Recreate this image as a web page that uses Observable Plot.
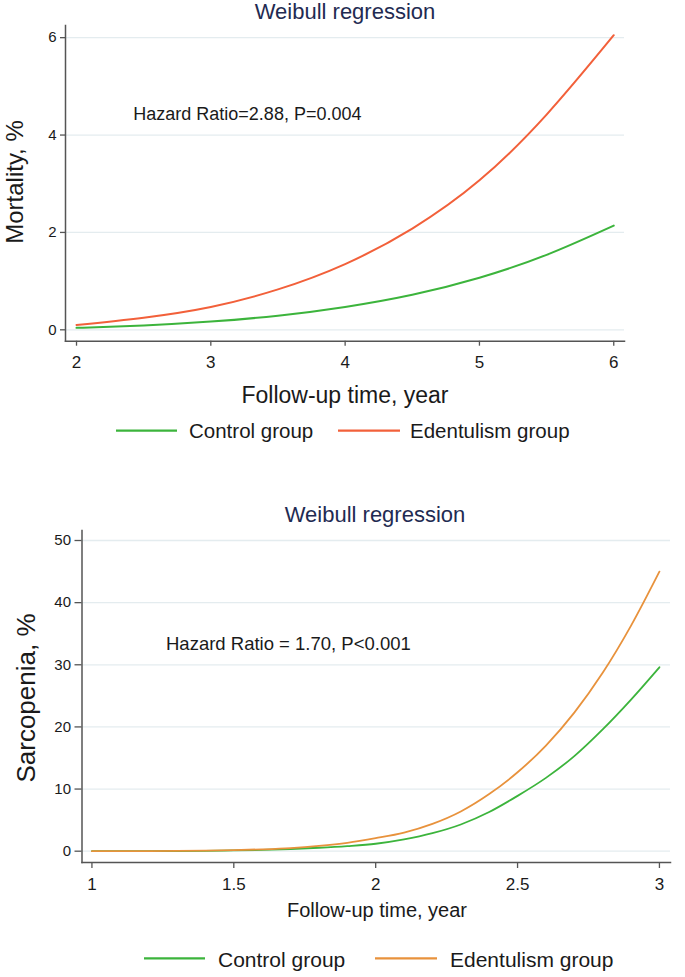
<!DOCTYPE html>
<html>
<head>
<meta charset="utf-8">
<script src="https://cdn.jsdelivr.net/npm/d3@7"></script>
<script src="https://cdn.jsdelivr.net/npm/@observablehq/plot@0.6"></script>
<style>
  body { margin: 0; background: #fff; }
  #page { position: relative; width: 685px; height: 977px; overflow: hidden; background: #fff;
          font-family: Arial, "Liberation Sans", sans-serif; }
  #page > * { position: absolute; left: 0; }
  #overlay { top: 0; pointer-events: none; }
</style>
</head>
<body>
<div id="page"></div>
<script>
// ---------- Data ----------
const groups = ["Control group", "Edentulism group"];

// Panel 1: Mortality (%)
const years1 = [2, 2.5, 3, 3.5, 4, 4.5, 5, 5.5, 6];
const mortControl = [0.04, 0.09, 0.17, 0.29, 0.47, 0.72, 1.07, 1.54, 2.14];
const mortEdent   = [0.10, 0.25, 0.47, 0.83, 1.35, 2.08, 3.07, 4.42, 6.05];
const xTicks1 = [2, 3, 4, 5, 6];
const yTicks1 = [0, 2, 4, 6];

// Panel 2: Sarcopenia (%)
const years2 = [1, 1.1, 1.2, 1.3, 1.4, 1.5, 1.6, 1.7, 1.8, 1.9, 2, 2.1, 2.2, 2.3, 2.4, 2.5, 2.6, 2.7, 2.8, 2.9, 3];
const sarcControl = [0, 0, 0.01, 0.03, 0.06, 0.12, 0.2, 0.35, 0.55, 0.82, 1.2, 1.9, 2.9, 4.3, 6.3, 8.9, 11.8, 15.3, 19.6, 24.4, 29.6];
const sarcEdent   = [0, 0, 0.01, 0.04, 0.09, 0.17, 0.3, 0.5, 0.85, 1.35, 2.1, 3.0, 4.4, 6.4, 9.2, 12.7, 17.0, 22.3, 28.7, 36.3, 45.0];
const xTicks2 = [1, 1.5, 2, 2.5, 3];
const yTicks2 = [0, 10, 20, 30, 40, 50];

const titleText = "Weibull regression";
const xLabelText = "Follow-up time, year";
const yLabel1 = "Mortality, %";
const yLabel2 = "Sarcopenia, %";
const note1 = "Hazard Ratio=2.88, P=0.004";
const note2 = "Hazard Ratio = 1.70, P<0.001";

// ---------- Styles ----------
const GREEN = "#3cb43c";
const ORANGE1 = "#f2603a";
const ORANGE2 = "#e8923c";
const AXIS = "#555";
const GRID = "#e4ecef";
const TEXT = "#1a1a1a";
const TITLE = "#1f2b52";
const FONT = 'Arial, "Liberation Sans", sans-serif';
const fmt = d => String(d);

const rows1 = years1.flatMap((t, i) => [
  {t, v: mortControl[i], g: groups[0]},
  {t, v: mortEdent[i], g: groups[1]}
]);
const rows2 = years2.flatMap((t, i) => [
  {t, v: sarcControl[i], g: groups[0]},
  {t, v: sarcEdent[i], g: groups[1]}
]);

const page = document.getElementById("page");

// ---------- Panel 1 ----------
const p1 = Plot.plot({
  width: 685, height: 380,
  marginLeft: 65, marginRight: 61, marginTop: 25, marginBottom: 39.3,
  x: {domain: [1.918, 6.08]},
  y: {domain: [-0.234, 6.25]},
  style: {fontFamily: FONT, color: TEXT, background: "transparent", overflow: "visible"},
  marks: [
    Plot.gridY({ticks: yTicks1, stroke: GRID, strokeOpacity: 1, strokeWidth: 1.3}),
    Plot.axisY({ticks: yTicks1, tickSize: 5, tickPadding: 4, label: null, fontSize: 15, stroke: AXIS, strokeWidth: 1.3, tickFormat: fmt}),
    Plot.axisX({ticks: xTicks1, tickSize: 5, tickPadding: 10, label: null, fontSize: 17, stroke: AXIS, strokeWidth: 1.3, tickFormat: fmt}),
    Plot.frame({anchor: "left", stroke: AXIS, strokeWidth: 1.5}),
    Plot.frame({anchor: "bottom", stroke: AXIS, strokeWidth: 1.5}),
    Plot.line(rows1.filter(d => d.g === groups[0]), {x: "t", y: "v", stroke: GREEN, strokeWidth: 2, curve: "natural"}),
    Plot.line(rows1.filter(d => d.g === groups[1]), {x: "t", y: "v", stroke: ORANGE1, strokeWidth: 2, curve: "natural"})
  ]
});
p1.style.top = "0px";
page.appendChild(p1);

// ---------- Panel 2 ----------
const p2 = Plot.plot({
  width: 685, height: 420,
  marginLeft: 81.5, marginRight: 15, marginTop: 40, marginBottom: 48,
  x: {domain: [0.965, 3.039]},
  y: {domain: [-1.82, 51.61]},
  style: {fontFamily: FONT, color: TEXT, background: "transparent", overflow: "visible"},
  marks: [
    Plot.gridY({ticks: yTicks2, stroke: GRID, strokeOpacity: 1, strokeWidth: 1.3}),
    Plot.axisY({ticks: yTicks2, tickSize: 7, tickPadding: 4, label: null, fontSize: 15, stroke: AXIS, strokeWidth: 1.3, tickFormat: fmt}),
    Plot.axisX({ticks: xTicks2, tickSize: 6, tickPadding: 9, label: null, fontSize: 17, stroke: AXIS, strokeWidth: 1.3, tickFormat: fmt}),
    Plot.frame({anchor: "left", stroke: AXIS, strokeWidth: 1.5}),
    Plot.frame({anchor: "bottom", stroke: AXIS, strokeWidth: 1.5}),
    Plot.line(rows2.filter(d => d.g === groups[0]), {x: "t", y: "v", stroke: GREEN, strokeWidth: 1.8, curve: "monotone-x"}),
    Plot.line(rows2.filter(d => d.g === groups[1]), {x: "t", y: "v", stroke: ORANGE2, strokeWidth: 1.8, curve: "monotone-x"})
  ]
});
p2.style.top = "490px";
page.appendChild(p2);

// ---------- Overlay text: titles, labels, notes, legends ----------
const svg = d3.create("svg").attr("id", "overlay").attr("width", 685).attr("height", 977)
  .style("font-family", FONT);

function txt(x, y, s, size, opts = {}) {
  const t = svg.append("text").attr("x", x).attr("y", y).text(s)
    .attr("font-size", size).attr("fill", opts.fill || TEXT)
    .attr("text-anchor", opts.anchor || "start");
  if (opts.rotate) t.attr("transform", `rotate(-90 ${x} ${y})`);
  return t;
}

// Panel 1
txt(345, 18.5, titleText, 22, {anchor: "middle", fill: TITLE});
txt(133.3, 120, note1, 18);
txt(345, 403.3, xLabelText, 23, {anchor: "middle"});
txt(23, 182, yLabel1, 24, {anchor: "middle", rotate: true});
// Legend 1
[[116, 177, GREEN, 189, groups[0]], [338, 400, ORANGE1, 410, groups[1]]].forEach(([x1, x2, c, tx, s]) => {
  svg.append("line").attr("x1", x1).attr("x2", x2).attr("y1", 430.7).attr("y2", 430.7)
    .attr("stroke", c).attr("stroke-width", 2.2);
  txt(tx, 438.3, s, 20.5);
});

// Panel 2
txt(375, 522.3, titleText, 22, {anchor: "middle", fill: TITLE});
txt(166, 650, note2, 18.5);
txt(377, 917.3, xLabelText, 20, {anchor: "middle"});
txt(35, 698, yLabel2, 26, {anchor: "middle", rotate: true});
// Legend 2
[[144, 205, GREEN, 218, groups[0]], [375, 437, ORANGE2, 450, groups[1]]].forEach(([x1, x2, c, tx, s]) => {
  svg.append("line").attr("x1", x1).attr("x2", x2).attr("y1", 958.3).attr("y2", 958.3)
    .attr("stroke", c).attr("stroke-width", 2.2);
  txt(tx, 966.7, s, 21);
});

page.appendChild(svg.node());
</script>
</body>
</html>
